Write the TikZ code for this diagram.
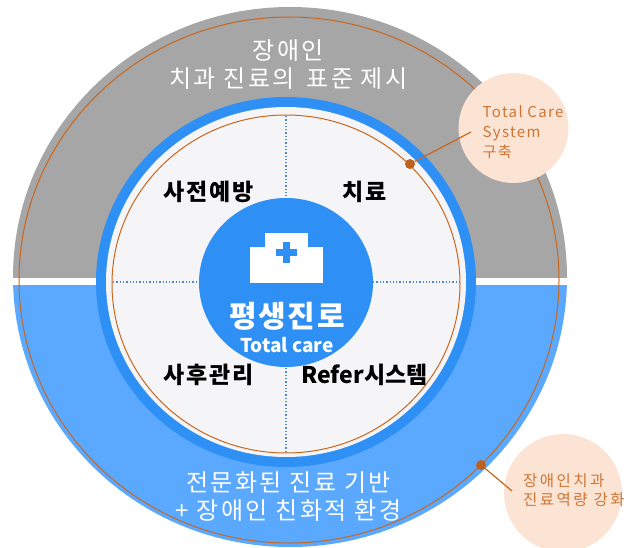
\documentclass[tikz,border=0pt]{standalone}
\usepackage{fontspec}
\setmainfont{Noto Sans CJK KR}
\definecolor{greyband}{HTML}{A6A6A6}
\definecolor{skyband}{HTML}{5BA8FF}
\definecolor{ringblue}{HTML}{2E90F5}
\definecolor{paper}{HTML}{F5F5F7}
\definecolor{rust}{HTML}{C8661E}
\definecolor{peach}{HTML}{FCE4D4}
\tikzset{
  bandlabel/.style={text=white, font=\fontsize{24}{28}\selectfont\addfontfeature{LetterSpace=10}, align=center},
  partlabel/.style={text=black, font=\fontsize{23}{25}\selectfont\bfseries\addfontfeature{LetterSpace=8}},
  notelabel/.style={text=rust!90!white, font=\fontsize{15}{20}\selectfont\addfontfeature{LetterSpace=9}, align=left},
  pin/.style={circle, fill=rust!95!black, inner sep=0pt, minimum size=10pt},
  dotline/.style={color=ringblue!60!gray, line width=1.3pt, dotted},
}
\begin{document}
\begin{tikzpicture}
\useasboundingbox (0pt, 0pt) rectangle (637pt, -548pt);
% outer bands
\begin{scope}
\clip (0pt, 0pt) rectangle (637pt, -277pt);
\fill[greyband] (290pt, -277pt) ellipse (277pt and 270pt);
\end{scope}
\begin{scope}
\clip (0pt, -285pt) rectangle (637pt, -548pt);
\fill[skyband] (290pt, -277pt) ellipse (277pt and 270pt);
\end{scope}
\draw[color=rust, line width=1pt] (289pt, -280pt) ellipse (270pt and 263pt);
% inner rings
\fill[ringblue] (286pt, -282pt) ellipse (190pt and 185pt);
\fill[paper] (286pt, -282pt) ellipse (180pt and 175pt);
\draw[color=rust, line width=1pt] (286pt, -284pt) ellipse (174pt and 169pt);
\draw[dotline] (286pt, -116pt) -- (286pt, -200pt);
\draw[dotline] (286pt, -368pt) -- (286pt, -452pt);
\draw[dotline] (113pt, -282pt) -- (199pt, -282pt);
\draw[dotline] (373pt, -282pt) -- (459pt, -282pt);
% middle
\fill[ringblue] (286pt, -282.5pt) ellipse (87pt and 84.5pt);
\fill[white] (265pt, -233pt) rectangle (308pt, -250pt);
\fill[white] (250pt, -247pt) rectangle (323pt, -283pt);
\fill[ringblue] (282.5pt, -241.5pt) rectangle (289.5pt, -262.5pt);
\fill[ringblue] (275.5pt, -248.5pt) rectangle (296.5pt, -255.5pt);
% labels
\node[bandlabel] (topband) at (288.5pt, -65pt) {장애인\\치과 진료의 \,표준 제시};
\node[bandlabel] (lowband) at (288.5pt, -497pt) {전문화된 진료 기반\\+ 장애인 친화적 환경};
\node[partlabel] (prevent) at (208.5pt, -192pt) {사전예방};
\node[partlabel] (treat) at (364.5pt, -192pt) {치료};
\node[partlabel] (aftercare) at (208.5pt, -375pt) {사후관리};
\node[partlabel, font=\fontsize{23}{25}\selectfont\bfseries] (refer) at (364.5pt, -375pt) {Refer시스템};
\node[text=white, font=\fontsize{30}{32}\selectfont\bfseries\addfontfeature{LetterSpace=6}] (lifelong) at (287pt, -316pt) {평생진로};
\node[text=white, font=\fontsize{19}{21}\selectfont\bfseries] (totalcare) at (287pt, -345pt) {Total care};
% notes
\node[circle, fill=peach, minimum size=110pt, inner sep=0pt] (noteone) at (513.5pt, -128pt) {};
\path[clip] (0pt, 0pt) rectangle (637pt, -548pt);
\node[circle, fill=peach, minimum size=118pt, inner sep=0pt] (notetwo) at (563pt, -493pt) {};
\node[notelabel, anchor=west, inner sep=0pt] (noteonetext) at (482.5pt, -132pt) {Total Care\\System\\구축};
\node[notelabel, anchor=west, inner sep=0pt, font=\fontsize{15.5}{19.5}\selectfont\addfontfeature{LetterSpace=16}] (notetwotext) at (523pt, -490pt) {장애인치과\\진료역량 강화};
\node[pin] (pinone) at (410pt, -164pt) {};
\node[pin] (pintwo) at (481pt, -465pt) {};
\coordinate (endone) at (471pt, -132pt);
\coordinate (endtwo) at (512pt, -491pt);
\draw[color=rust, line width=1.2pt] (pinone) -- (endone);
\draw[color=rust, line width=1.2pt] (pintwo) -- (endtwo);
\end{tikzpicture}
\end{document}
